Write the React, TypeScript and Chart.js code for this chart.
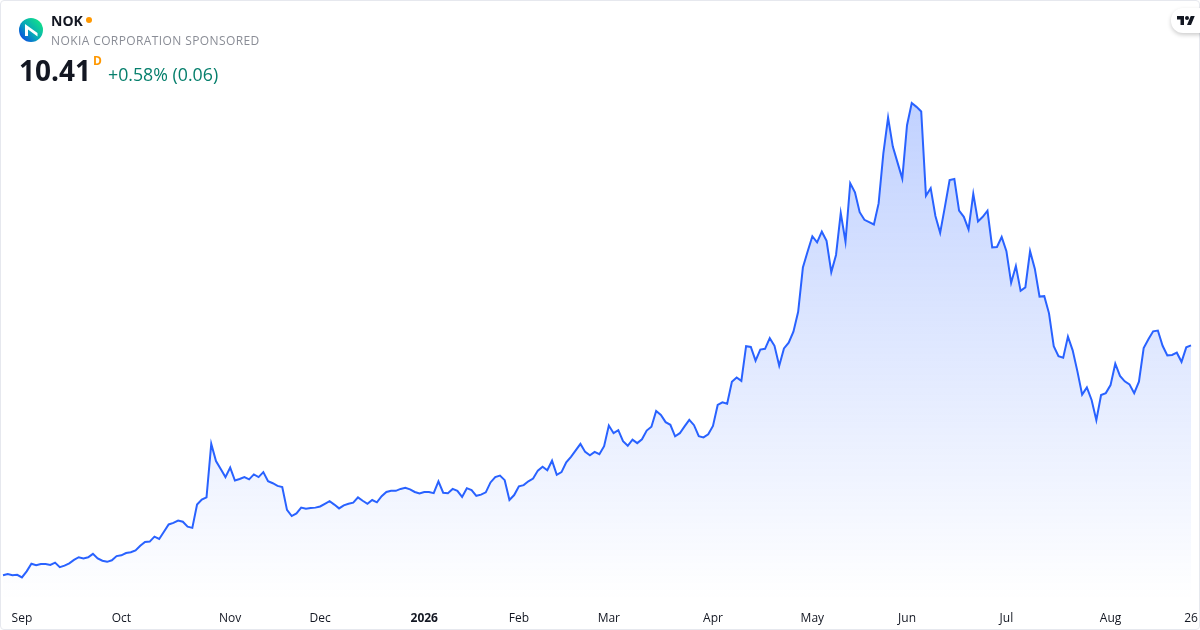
import React, { useEffect, useRef } from "react";
import { Chart, registerables } from "chart.js";

Chart.register(...registerables);

const closes: number[] = [
  4.39, 4.42, 4.39, 4.40, 4.33, 4.49, 4.69, 4.65, 4.68, 4.68, 4.66, 4.72, 4.60, 4.64, 4.70, 4.79, 4.86, 4.83, 4.86, 4.95,
  4.83, 4.77, 4.74, 4.78, 4.89, 4.91, 4.97, 4.99, 5.04, 5.16, 5.26, 5.27, 5.40, 5.34, 5.53, 5.72, 5.76, 5.82, 5.79, 5.66,
  5.63, 6.24, 6.37, 6.43, 7.83, 7.38, 7.17, 6.96, 7.21, 6.87, 6.91, 6.96, 6.90, 7.03, 6.96, 7.09, 6.85, 6.80, 6.73, 6.70,
  6.10, 5.94, 6.01, 6.16, 6.13, 6.15, 6.16, 6.19, 6.26, 6.33, 6.24, 6.14, 6.22, 6.26, 6.29, 6.43, 6.34, 6.26, 6.36, 6.30,
  6.46, 6.57, 6.60, 6.60, 6.65, 6.68, 6.64, 6.57, 6.53, 6.57, 6.57, 6.54, 6.85, 6.55, 6.54, 6.65, 6.60, 6.44, 6.67, 6.62,
  6.47, 6.50, 6.56, 6.82, 6.96, 7.00, 6.88, 6.36, 6.49, 6.72, 6.75, 6.85, 6.92, 7.13, 7.23, 7.14, 7.39, 7.02, 7.09, 7.35,
  7.49, 7.66, 7.83, 7.62, 7.53, 7.62, 7.56, 7.77, 8.31, 8.11, 8.19, 7.90, 7.78, 7.94, 7.85, 7.95, 8.18, 8.28, 8.69, 8.59,
  8.40, 8.33, 8.03, 8.11, 8.29, 8.46, 8.32, 8.03, 8.00, 8.08, 8.30, 8.85, 8.92, 8.88, 9.46, 9.57, 9.48, 10.39, 10.37, 10.01,
  10.30, 10.32, 10.60, 10.40, 9.88, 10.33, 10.48, 10.77, 11.29, 12.45, 12.87, 13.27, 13.11, 13.39, 13.15, 12.33, 12.78, 13.88, 13.13, 14.66,
  14.42, 13.90, 13.70, 13.64, 13.58, 14.13, 15.44, 16.38, 15.62, 15.20, 14.78, 16.18, 16.76, 16.66, 16.54, 14.33, 14.53, 13.80, 13.36, 14.04,
  14.74, 14.77, 13.94, 13.78, 13.45, 14.38, 13.66, 13.78, 13.94, 12.98, 12.99, 13.25, 12.88, 12.05, 12.49, 11.84, 11.93, 12.88, 12.42, 11.69,
  11.70, 11.25, 10.39, 10.13, 10.09, 10.64, 10.28, 9.73, 9.12, 9.31, 8.98, 8.45, 9.11, 9.16, 9.37, 9.93, 9.61, 9.47, 9.39, 9.16,
  9.46, 10.34, 10.57, 10.78, 10.80, 10.40, 10.15, 10.16, 10.22, 9.98, 10.36, 10.41,
];

const tickLabels: string[] = ["Sep", "Oct", "Nov", "Dec", "2026", "Feb", "Mar", "Apr", "May", "Jun", "Jul", "Aug", "26"];
const tickIndexes: number[] = [4, 25, 48, 67, 89, 109, 128, 150, 171, 191, 212, 234, 251];

const LINE = "#2962FF";
const FONT = '"Open Sans", sans-serif';

export default function App() {
  const ref = useRef<HTMLCanvasElement>(null);

  useEffect(() => {
    document.body.style.margin = "0";
    const categories = closes.map((_, i) => {
      const k = tickIndexes.indexOf(i);
      return k >= 0 ? tickLabels[k] : "";
    });
    const chart = new Chart(ref.current!, {
      type: "line",
      data: {
        labels: categories,
        datasets: [
          {
            data: closes,
            borderColor: LINE,
            borderWidth: 2,
            pointRadius: 0,
            tension: 0,
            fill: "start",
            backgroundColor: (c: any) => {
              const g = c.chart.ctx.createLinearGradient(0, 102, 0, 600);
              g.addColorStop(0, "rgba(41,98,255,0.29)");
              g.addColorStop(1, "rgba(41,98,255,0)");
              return g;
            },
          },
        ],
      },
      options: {
        animation: false,
        responsive: false,
        devicePixelRatio: 1,
        layout: { padding: { left: 3, right: 9, top: 0, bottom: 0 } },
        plugins: { legend: { display: false }, tooltip: { enabled: false } },
        scales: {
          y: { display: false, min: 3.74, max: 19.46 },
          x: {
            grid: { display: false },
            border: { display: false },
            afterFit: (s: any) => {
              s.height = 30;
              s.paddingRight = 0;
            },
            ticks: {
              autoSkip: false,
              maxRotation: 0,
              minRotation: 0,
              padding: 3,
              color: "#131722",
              font: (c: any) => ({
                family: FONT,
                size: 12,
                weight: c.tick && c.tick.label === "2026" ? "bold" : "normal",
              }),
              callback: (_v: any, i: number) => categories[i] || null,
            },
          },
        },
      },
    } as any);
    return () => chart.destroy();
  }, []);

  const abs = (o: React.CSSProperties): React.CSSProperties => ({
    position: "absolute",
    fontFamily: FONT,
    whiteSpace: "nowrap",
    lineHeight: 1,
    ...o,
  });

  return (
    <div style={{ position: "relative", width: 1200, height: 630, overflow: "hidden", background: "#fff" }}>
      <canvas ref={ref} width={1200} height={630} style={{ position: "absolute", left: 0, top: 0, display: "block" }} />
      <div
        style={{
          position: "absolute",
          inset: 0,
          boxSizing: "border-box",
          border: "1px solid #e6e8ee",
          borderRadius: 4,
          pointerEvents: "none",
        }}
      />
      <svg width={24} height={24} viewBox="0 0 24 24" style={{ position: "absolute", left: 19, top: 18 }}>
        <defs>
          <linearGradient id="nokLogo" x1="0.1" y1="0.85" x2="0.9" y2="0.15">
            <stop offset="0" stopColor="#0a4fe0" />
            <stop offset="0.45" stopColor="#06a8b8" />
            <stop offset="1" stopColor="#12e08a" />
          </linearGradient>
        </defs>
        <circle cx={12} cy={12} r={12} fill="url(#nokLogo)" />
        <path d="M6 18V6L18.5 15V18.5L9 11.5V18Z" fill="#fff" />
      </svg>
      <div style={abs({ left: 51, top: 14, fontSize: 14, fontWeight: 700, color: "#131722" })}>NOK</div>
      <div style={{ position: "absolute", left: 86, top: 17, width: 6, height: 6, borderRadius: 3, background: "#ff9800" }} />
      <div style={abs({ left: 51, top: 35, fontSize: 12, color: "#8a8d96", letterSpacing: 0.4 })}>NOKIA CORPORATION SPONSORED</div>
      <div style={abs({ left: 19, top: 56, fontSize: 28, fontWeight: 700, color: "#131722" })}>10.41</div>
      <div style={abs({ left: 93, top: 55, fontSize: 12, fontWeight: 700, color: "#ff9800" })}>D</div>
      <div style={abs({ left: 108, top: 66, fontSize: 17.75, color: "#067f6c" })}>+0.58% (0.06)</div>
      <div
        style={{
          position: "absolute",
          left: 1171,
          top: 8,
          width: 40,
          height: 25,
          borderRadius: 12,
          background: "#fff",
          boxShadow: "0 2px 4px rgba(0,0,0,0.2)",
        }}
      />
      <svg width={18} height={14} viewBox="0 0 36 28" style={{ position: "absolute", left: 1177, top: 14 }}>
        <path d="M14 22H7V11H0V4h14v18zM28 22h-8l7.5-18h8L28 22z" fill="#131722" />
        <circle cx={20} cy={8} r={4} fill="#131722" />
      </svg>
    </div>
  );
}
